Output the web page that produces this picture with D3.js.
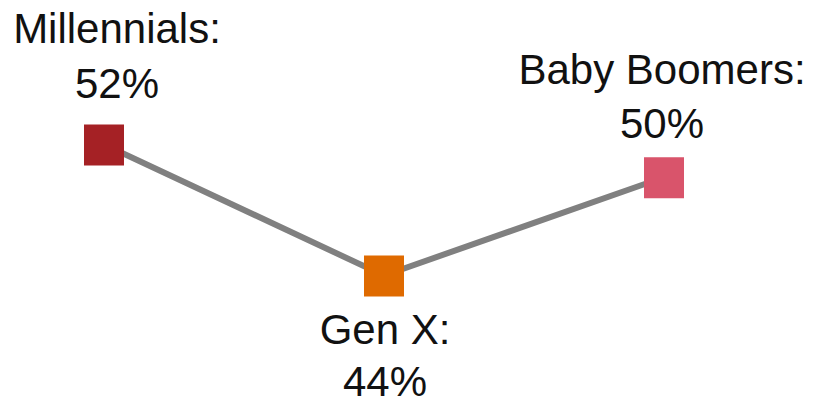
<!DOCTYPE html>
<html>
<head>
<meta charset="utf-8">
<script src="https://cdn.jsdelivr.net/npm/d3@7"></script>
<style>
  html, body { margin: 0; padding: 0; background: #fff; }
  svg { display: block; }
  text { font-family: "Liberation Sans", Arial, Helvetica, sans-serif; fill: #111; }
</style>
</head>
<body>
<svg id="chart" width="831" height="405"></svg>
<script>
// Data
const categories = ["Millennials", "Gen X", "Baby Boomers"];
const values = [52, 44, 50];
const colors = ["#a52125", "#df6a00", "#d9546b"];

// Layout (styling, not data)
const fontSize = 42;
const lineGaps = [55, 52, 54];
const sq = 40;
// label baseline of first line relative to point, and horizontal shift
const labelDy = [-101.5, 68.5, -93.5];
const labelDx = [13, 1, -2];

const svg = d3.select("#chart");

const x = d3.scalePoint().domain(categories).range([104, 664]);
const y = d3.scaleLinear().domain([44, 52]).range([275.5, 144.5]);

const pts = categories.map((c, i) => ({ cat: c, val: values[i], color: colors[i], i }));

const line = d3.line().x(d => x(d.cat)).y(d => y(d.val));

svg.append("path")
  .datum(pts)
  .attr("d", line)
  .attr("fill", "none")
  .attr("stroke", "#808080")
  .attr("stroke-width", 6);

svg.selectAll("rect.pt")
  .data(pts)
  .join("rect")
  .attr("class", "pt")
  .attr("x", d => x(d.cat) - sq / 2)
  .attr("y", d => y(d.val) - sq / 2)
  .attr("width", sq)
  .attr("height", sq + 1)
  .attr("fill", d => d.color);

const labels = svg.selectAll("text.lbl")
  .data(pts)
  .join("text")
  .attr("class", "lbl")
  .attr("text-anchor", "middle")
  .attr("font-size", fontSize)
  .attr("x", d => x(d.cat) + labelDx[d.i])
  .attr("y", d => y(d.val) + labelDy[d.i]);

labels.append("tspan")
  .attr("x", d => x(d.cat) + labelDx[d.i])
  .text(d => d.cat + ":");
labels.append("tspan")
  .attr("x", d => x(d.cat) + labelDx[d.i])
  .attr("dy", d => lineGaps[d.i])
  .text(d => d.val + "%");
</script>
</body>
</html>
